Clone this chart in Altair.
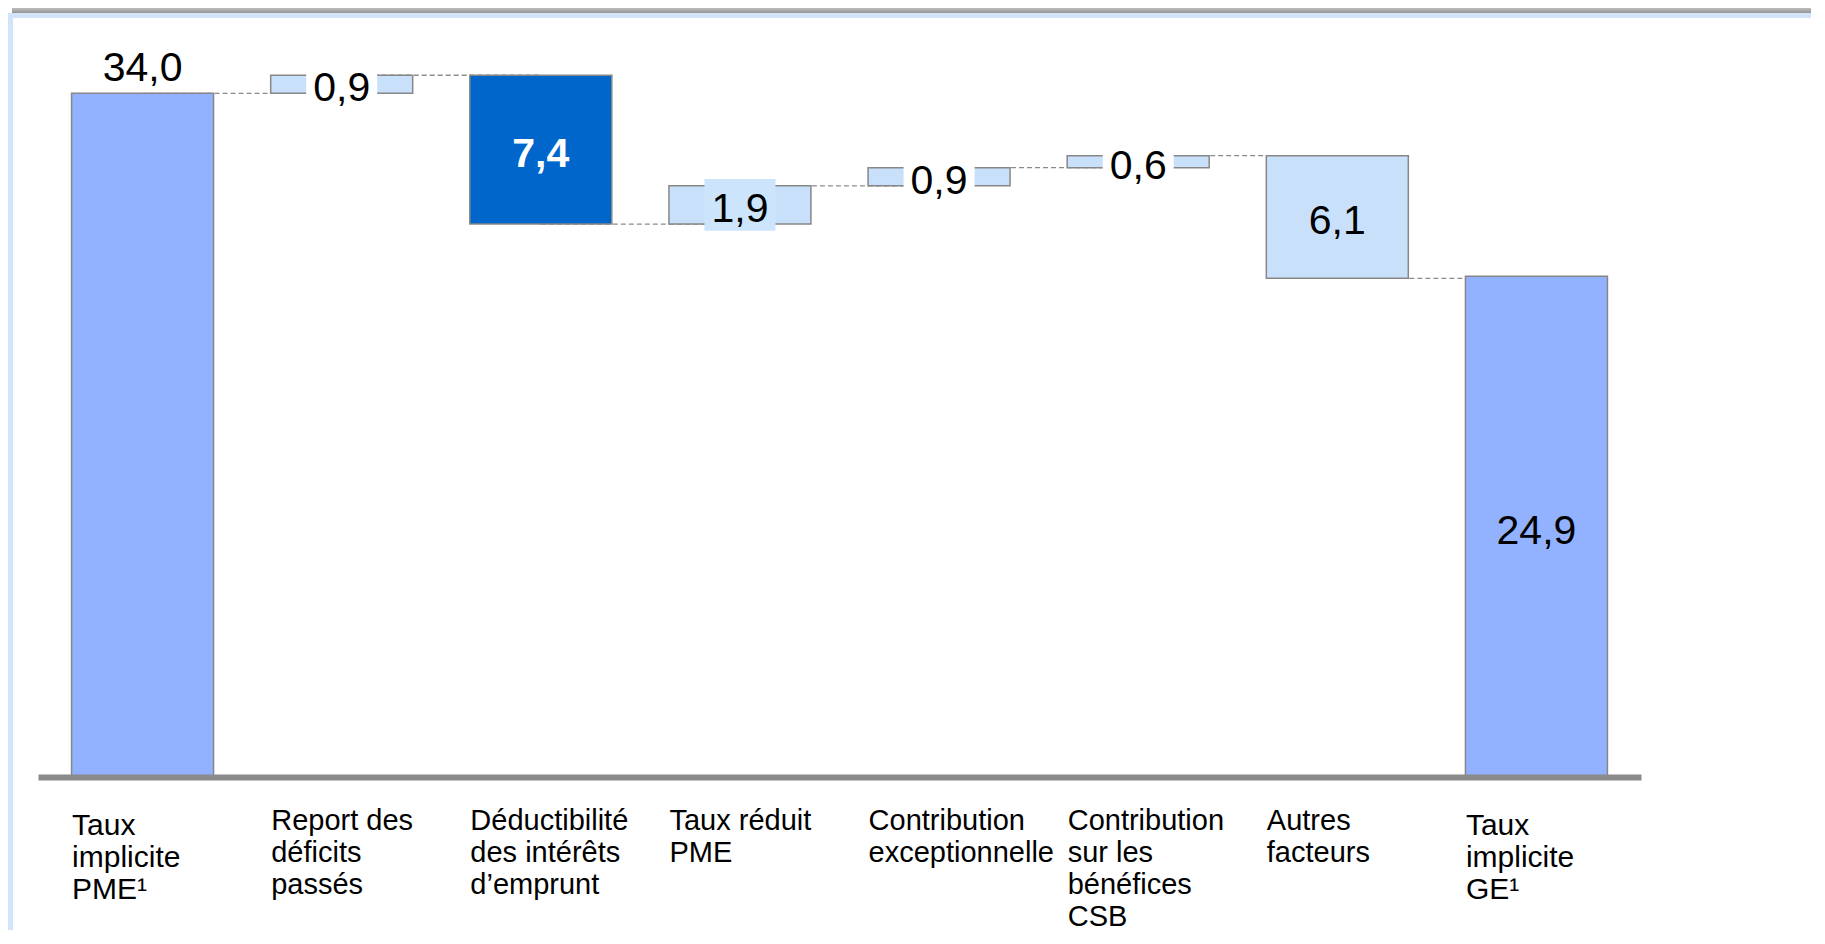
import json
import altair as alt
import pandas as pd

# ---------------- data ----------------
categories = [
    ["Taux", "implicite", "PME¹"],
    ["Report des", "déficits", "passés"],
    ["Déductibilité", "des intérêts", "d’emprunt"],
    ["Taux réduit", "PME"],
    ["Contribution", "exceptionnelle"],
    ["Contribution", "sur les", "bénéfices", "CSB"],
    ["Autres", "facteurs"],
    ["Taux", "implicite", "GE¹"],
]
kinds = ["total", "delta", "delta", "delta", "delta", "delta", "delta", "total"]
values = [34.0, 0.9, -7.4, 1.9, 0.9, 0.6, -6.1, 24.9]

# ---------------- styles ----------------
fills = ["#92B1FF", "#C8E0FA", "#0066CC", "#C8E0FA", "#C8E0FA", "#C8E0FA", "#C8E0FA", "#92B1FF"]
label_place = ["above", "boxed", "bold", "boxed", "boxed", "boxed", "inside", "inside"]
label_box = ["", "#FFFFFF", "", "#CCE4FC", "#FFFFFF", "#FFFFFF", "", ""]

FONT = "Liberation Sans"
W, H = 1603, 744
n = len(categories)

rows = []
level = 0.0
for i, (k, v) in enumerate(zip(kinds, values)):
    if k == "total":
        start, end = 0.0, v
    else:
        start, end = level, level + v
    level = end
    rows.append(dict(idx=i, start=start, end=end, mid=(start + end) / 2,
                     lab=f"{abs(v):.1f}".replace(".", ","),
                     fill=fills[i], place=label_place[i], box=label_box[i]))
df = pd.DataFrame(rows)
conn = pd.DataFrame([dict(idx=i, idx2=i + 1, level=rows[i]["end"]) for i in range(n - 1)])

edge_test = f"datum.value == 0 || datum.value == {n - 1}"
x_axis = alt.Axis(
    values=list(range(n)),
    labelExpr=json.dumps(categories, ensure_ascii=False) + "[datum.value]",
    title=None, grid=False, ticks=False, tickSize=0,
    domain=True, domainColor="#8A8A8A", domainWidth=6,
    labelAlign="left", labelBaseline="alphabetic", labelOffset=-71,
    labelPadding={"condition": {"test": edge_test, "value": 57}, "value": 52},
    labelFontSize={"condition": {"test": edge_test, "value": 30}, "value": 29},
    labelFont=FONT, labelColor="#000000", labelLineHeight=32, labelLimit=600,
    labelBound=False, labelFlush=False, labelOverlap=False, zindex=1,
)
x_scale = alt.Scale(domain=[-0.5, n - 0.5], nice=False, zero=False)
y_scale = alt.Scale(domain=[0, 37], nice=False, zero=True)


def X(field="idx:Q"):
    return alt.X(field, scale=x_scale, axis=x_axis)


base = alt.Chart(df)

connectors = alt.Chart(conn).mark_rule(
    strokeDash=[5, 3], color="#8C8C8C", strokeWidth=1.3
).encode(
    x=X(), x2="idx2:Q",
    y=alt.Y("level:Q", scale=y_scale, axis=None),
)

bars = base.mark_bar(size=142, stroke="#878787", strokeWidth=1.5).encode(
    x=X(),
    y=alt.Y("start:Q", scale=y_scale, axis=None),
    y2="end:Q",
    color=alt.Color("fill:N", scale=None),
)

boxes = base.transform_filter("datum.box != ''").mark_point(
    shape="M-1,-0.73L1,-0.73L1,0.73L-1,0.73Z", filled=True, opacity=1,
    size=5041, strokeWidth=0,
).encode(
    x=X(),
    y=alt.Y("mid:Q", scale=y_scale, axis=None),
    color=alt.Color("box:N", scale=None),
)

txt_above = base.transform_filter("datum.place == 'above'").mark_text(
    font=FONT, fontSize=41, color="#000000", align="center",
    baseline="alphabetic", dy=-12,
).encode(x=X(), y=alt.Y("end:Q", scale=y_scale, axis=None), text="lab:N")

txt_inside = base.transform_filter("datum.place == 'boxed' || datum.place == 'inside'").mark_text(
    font=FONT, fontSize=41, color="#000000", align="center",
    baseline="middle", dy=5,
).encode(x=X(), y=alt.Y("mid:Q", scale=y_scale, axis=None), text="lab:N")

txt_bold = base.transform_filter("datum.place == 'bold'").mark_text(
    font=FONT, fontSize=41, color="#FFFFFF", fontWeight="bold", align="center",
    baseline="middle", dy=5,
).encode(x=X(), y=alt.Y("mid:Q", scale=y_scale, axis=None), text="lab:N")

# ---------------- decorative slide frame ----------------
one = alt.Data(values=[{"k": 1}])
shadow = alt.Chart(one).mark_rect(
    fill=alt.Gradient(
        gradient="linear",
        stops=[alt.GradientStop(color="#BDBDBD", offset=0),
               alt.GradientStop(color="#959595", offset=1)],
        x1=0, x2=0, y1=0, y2=1,
    )
).encode(x=alt.value(-26), x2=alt.value(W + 200), y=alt.value(-25), y2=alt.value(-20))
top_line = alt.Chart(one).mark_rect(color="#D2E4FA").encode(
    x=alt.value(-30), x2=alt.value(W + 200), y=alt.value(-20), y2=alt.value(-15))
left_line = alt.Chart(one).mark_rect(color="#D2E4FA").encode(
    x=alt.value(-30), x2=alt.value(-25), y=alt.value(-20), y2=alt.value(H + 300))

chart = alt.layer(
    shadow, top_line, left_line,
    connectors, bars, boxes, txt_above, txt_inside, txt_bold,
).properties(
    width=W, height=H,
    autosize=alt.AutoSizeParams(type="none"),
    padding={"left": 30, "top": 25, "right": 170, "bottom": 153},
).configure_view(strokeWidth=0)

chart.save("out.html", embed_options={"renderer": "svg", "actions": False})
